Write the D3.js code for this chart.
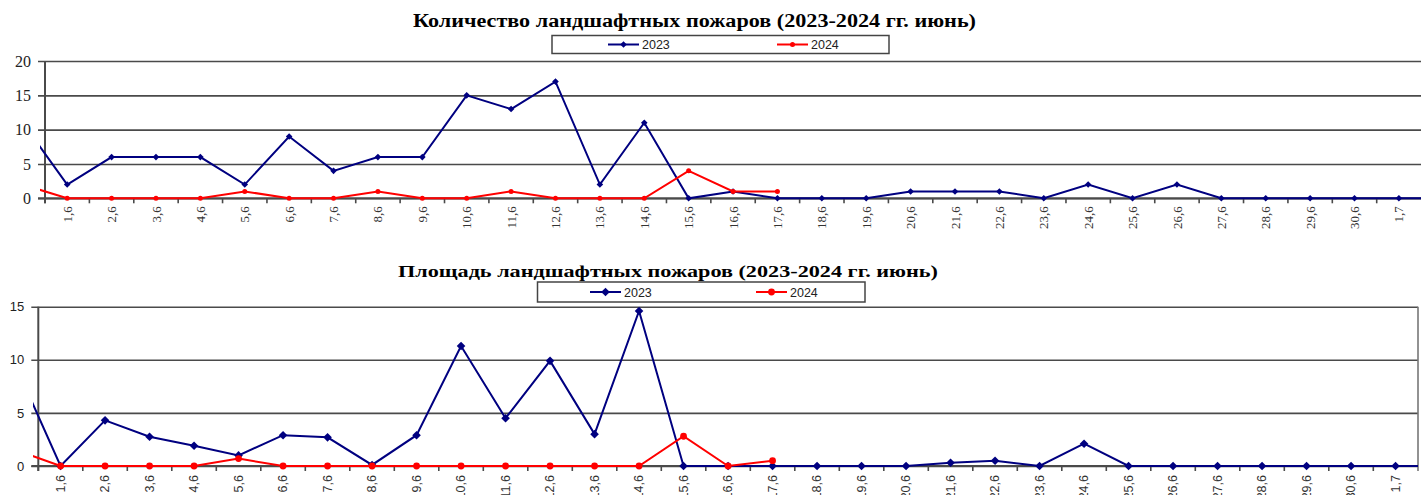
<!DOCTYPE html>
<html><head><meta charset="utf-8">
<script src="https://cdn.jsdelivr.net/npm/d3@7"></script>
<style>
html,body{margin:0;padding:0;background:#fff;}
svg{display:block;}
</style></head>
<body>
<svg id="chart" width="1421" height="495"></svg>
<script>
// Categories (first and last are partially visible, outside the labelled range)
const dates = ["31,5","1,6","2,6","3,6","4,6","5,6","6,6","7,6","8,6","9,6","10,6",
  "11,6","12,6","13,6","14,6","15,6","16,6","17,6","18,6","19,6","20,6",
  "21,6","22,6","23,6","24,6","25,6","26,6","27,6","28,6","29,6","30,6","1,7","2,7"];
const hiddenLabels = ["31,5","2,7"];
const seriesNames = ["2023","2024"];

// Count of landscape fires
const count2023 = [11, 2,6,6,6,2,9,4,6,6,15, 13,17,2,11,0,1,0,0,0,1, 1,1,0,2,0,2,0,0,0,0, 0, 0];
const count2024 = [2, 0,0,0,0,1,0,0,1,0,0, 1,0,0,0,4,1,1];
const countTicks = [0,5,10,15,20];

// Area of landscape fires
const area2023 = [9.4, 0,4.3,2.75,1.9,1.0,2.9,2.7,0.1,2.9,11.3, 4.5,9.9,3.0,14.6,0,0,0,0,0,0, 0.3,0.5,0,2.1,0,0,0,0,0,0, 0, 0];
const area2024 = [1.5, 0,0,0,0,0.7,0,0,0,0,0, 0,0,0,0,2.8,0,0.5];
const areaTicks = [0,5,10,15];

const titles = ["Количество ландшафтных пожаров (2023-2024 гг. июнь)",
                "Площадь ландшафтных пожаров (2023-2024 гг. июнь)"];

const NAVY = "#000080", RED = "#ff0000", GRID = "#4a4a4a";
const svg = d3.select("#chart");

function drawChart(cfg) {
  const g = svg.append("g");
  const step = cfg.step;
  const x = d3.scaleBand().domain(dates)
    .range([cfg.left - step, cfg.left - step + step * dates.length])
    .paddingInner(0).paddingOuter(0);
  const cx = d => x(d) + x.bandwidth() / 2;
  const y = d3.scaleLinear().domain([0, cfg.yMax]).range([cfg.bottom, cfg.top]);
  const plotW = cfg.right - cfg.left;

  // title
  g.append("text").attr("x", cfg.titleX).attr("y", cfg.titleY)
    .attr("text-anchor", "middle")
    .attr("font-family", "Liberation Serif, Times New Roman, serif")
    .attr("font-weight", "bold").attr("font-size", cfg.titleSize)
    .attr("textLength", cfg.titleLen).attr("lengthAdjust", "spacingAndGlyphs")
    .attr("fill", "#000").text(cfg.title);

  // y axis with gridlines
  const ya = g.append("g").attr("transform", `translate(${cfg.left},0)`)
    .call(d3.axisLeft(y).tickValues(cfg.ticks).tickSizeOuter(0).tickSize(0).tickFormat(d3.format("d")));
  ya.select(".domain").remove();
  ya.selectAll(".tick line").attr("x1", -7).attr("x2", plotW)
    .attr("stroke", GRID).attr("stroke-width", 1.6);
  ya.selectAll(".tick text").attr("x", -cfg.yLabelGap)
    .attr("font-family", cfg.yFont).attr("font-size", cfg.yFontSize).attr("fill", "#222");
  g.append("line").attr("x1", cfg.left).attr("x2", cfg.left)
    .attr("y1", cfg.top).attr("y2", cfg.bottom + 5)
    .attr("stroke", GRID).attr("stroke-width", 2);
  if (cfg.rightBorder) {
    g.append("line").attr("x1", cfg.right).attr("x2", cfg.right)
      .attr("y1", cfg.top).attr("y2", cfg.bottom + 5)
      .attr("stroke", "#777").attr("stroke-width", 1.6);
  }

  // x axis: labels at category centres, ticks at boundaries
  const visible = dates.filter(d => !hiddenLabels.includes(d));
  const xa = g.append("g").attr("transform", `translate(0,${cfg.bottom})`)
    .call(d3.axisBottom(x).tickValues(visible).tickSize(0));
  xa.select(".domain").remove();
  xa.selectAll(".tick text")
    .attr("transform", "rotate(-90)")
    .attr("text-anchor", "end")
    .attr("x", -cfg.xLabelGap).attr("y", 0).attr("dy", "0.35em")
    .attr("font-family", cfg.xFont).attr("font-size", cfg.xFontSize).attr("fill", "#333");
  g.append("line").attr("x1", cfg.left - 7).attr("x2", cfg.right)
    .attr("y1", cfg.bottom).attr("y2", cfg.bottom)
    .attr("stroke", GRID).attr("stroke-width", 2);
  g.selectAll(".xtick").data(visible).join("line").attr("class", "xtick")
    .attr("x1", d => x(d)).attr("x2", d => x(d))
    .attr("y1", cfg.bottom).attr("y2", cfg.bottom + 5)
    .attr("stroke", GRID).attr("stroke-width", 1.6);

  // clip for series
  const clipId = "clip" + cfg.id;
  svg.append("clipPath").attr("id", clipId).append("rect")
    .attr("x", cfg.clipLeft).attr("y", cfg.top - 10)
    .attr("width", cfg.right - cfg.clipLeft).attr("height", cfg.bottom - cfg.top + 20);
  const sg = g.append("g").attr("clip-path", `url(#${clipId})`);

  const line = d3.line().x((d, i) => cx(dates[i])).y(d => y(d));
  const diamond = s => `M0,${-s}L${s},0L0,${s}L${-s},0Z`;

  [[cfg.s2023, NAVY, "d"], [cfg.s2024, RED, "c"]].forEach(([vals, col, mk]) => {
    sg.append("path").datum(vals).attr("d", line)
      .attr("fill", "none").attr("stroke", col).attr("stroke-width", cfg.lw)
      .attr("stroke-linejoin", "miter");
    const pts = vals.map((v, i) => ({v, d: dates[i]})).filter(p => !hiddenLabels.includes(p.d));
    if (mk === "d") {
      sg.selectAll(null).data(pts).join("path")
        .attr("d", diamond(cfg.dSize))
        .attr("transform", p => `translate(${cx(p.d)},${y(p.v)})`)
        .attr("fill", col);
    } else {
      sg.selectAll(null).data(pts).join("circle")
        .attr("cx", p => cx(p.d)).attr("cy", p => y(p.v)).attr("r", cfg.cSize)
        .attr("fill", col);
    }
  });

  // legend
  const lg = g.append("g");
  lg.append("rect").attr("x", cfg.legend.x).attr("y", cfg.legend.y)
    .attr("width", cfg.legend.w).attr("height", cfg.legend.h)
    .attr("fill", "#fff").attr("stroke", "#444").attr("stroke-width", 1.5);
  const ly = cfg.legend.y + cfg.legend.h / 2;
  seriesNames.forEach((name, i) => {
    const lx = cfg.legend.items[i];
    const col = i === 0 ? NAVY : RED;
    lg.append("line").attr("x1", lx).attr("x2", lx + 31).attr("y1", ly).attr("y2", ly)
      .attr("stroke", col).attr("stroke-width", 2);
    if (i === 0) {
      lg.append("path").attr("d", diamond(cfg.dSize)).attr("transform", `translate(${lx + 15.5},${ly})`).attr("fill", col);
    } else {
      lg.append("circle").attr("cx", lx + 15.5).attr("cy", ly).attr("r", cfg.cSize).attr("fill", col);
    }
    lg.append("text").attr("x", lx + 34).attr("y", ly).attr("dy", "0.36em")
      .attr("font-family", "Liberation Sans, Arial, sans-serif").attr("font-size", 12.5)
      .attr("fill", "#222").text(name);
  });
}

drawChart({
  id: 1, title: titles[0], titleX: 694.5, titleY: 27, titleSize: 18, titleLen: 563,
  left: 45, right: 1421, step: 44.39, top: 61, bottom: 198.3, yMax: 20,
  ticks: countTicks, yFont: "Liberation Serif, serif", yFontSize: 16, yLabelGap: 14,
  xFont: "Liberation Serif, serif", xFontSize: 13, xLabelGap: 8,
  clipLeft: 40, rightBorder: false,
  s2023: count2023, s2024: count2024, lw: 2, dSize: 3.3, cSize: 2.5,
  legend: {x: 552, y: 35.5, w: 337, h: 18, items: [608, 777]}
});

drawChart({
  id: 2, title: titles[1], titleX: 668, titleY: 277, titleSize: 16.5, titleLen: 540,
  left: 38.3, right: 1418, step: 44.5, top: 306.7, bottom: 466, yMax: 15,
  ticks: areaTicks, yFont: "Liberation Sans, Arial, sans-serif", yFontSize: 13, yLabelGap: 14,
  xFont: "Liberation Sans, Arial, sans-serif", xFontSize: 12.5, xLabelGap: 9,
  clipLeft: 33, rightBorder: true,
  s2023: area2023, s2024: area2024, lw: 2, dSize: 4.3, cSize: 3.4,
  legend: {x: 537.5, y: 282, w: 327.5, h: 20, items: [590, 756]}
});
</script>
</body></html>
